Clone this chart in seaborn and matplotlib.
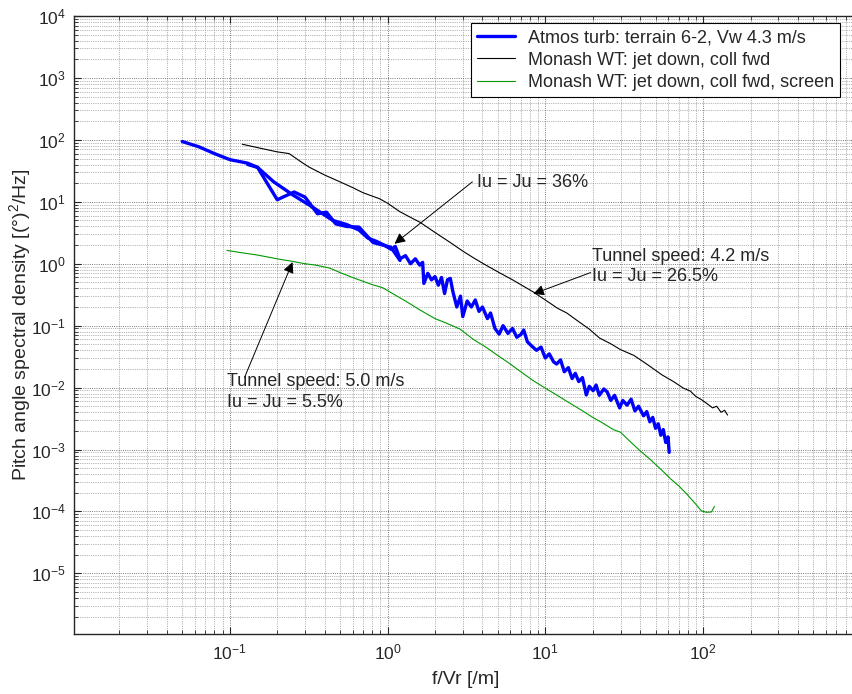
import matplotlib
matplotlib.use("Agg")
import matplotlib.pyplot as plt
from matplotlib.ticker import LogLocator, NullFormatter
import pandas as pd
import seaborn as sns

# Atmospheric turbulence spectrum (coarse + fine parts of the same record)
atmos_coarse_f = [0.05, 0.064, 0.08, 0.1, 0.13, 0.15, 0.2, 0.256, 0.3, 0.36, 0.41, 0.47,
                  0.55, 0.66, 0.81, 1.05, 1.2]
atmos_coarse_s = [94, 77, 60, 48, 42, 36, 10.8, 14.4, 11.9, 6.4, 6.8, 4.4,
                  4.0, 3.9, 2.2, 1.85, 1.13]

atmos_fine_f = [0.13, 0.15, 0.19, 0.25, 0.33, 0.45, 0.55, 0.66, 0.75, 0.85, 0.95, 1.06,
                1.12, 1.2, 1.3, 1.4, 1.5, 1.6, 1.67, 1.7, 1.8, 1.9, 2.0, 2.1, 2.2, 2.3,
                2.4, 2.5, 2.6, 2.75, 2.9, 3.0, 3.2, 3.4, 3.6, 3.8, 4.0, 4.3, 4.5, 4.8,
                5.1, 5.4, 5.8, 6.2, 6.6, 7.0, 7.3, 7.7, 8.2, 8.8, 9.4, 10.0, 10.6, 11.3,
                11.8, 12.5, 13.2, 14.0, 14.8, 15.5, 16.3, 17.2, 18.2, 19.0, 20.1, 21.0,
                22.0, 23.5, 24.7, 26.0, 27.5, 29.6, 31.0, 33.0, 35.0, 37.0, 39.0, 42.0,
                44.0, 46.0, 48.0, 50.0, 52.0, 54.0, 56.0, 58.0, 60.0, 61.0]
atmos_fine_s = [40, 36, 21, 13, 8.4, 5.0, 4.3, 3.5, 2.6, 2.3, 2.0, 1.7,
                1.9, 1.2, 1.35, 1.0, 1.2, 0.95, 1.05, 0.48, 0.7, 0.55, 0.62, 0.45, 0.6, 0.33,
                0.55, 0.58, 0.35, 0.2, 0.3, 0.14, 0.25, 0.2, 0.26, 0.17, 0.2, 0.13, 0.16, 0.09,
                0.073, 0.1, 0.075, 0.09, 0.065, 0.072, 0.085, 0.055, 0.047, 0.04, 0.045, 0.03, 0.035, 0.026,
                0.024, 0.028, 0.018, 0.021, 0.014, 0.017, 0.0125, 0.0145, 0.0076, 0.0105, 0.0089, 0.011,
                0.0075, 0.0095, 0.0085, 0.0062, 0.0075, 0.0047, 0.0062, 0.0052, 0.0065, 0.0042, 0.005, 0.0035,
                0.0041, 0.0028, 0.0033, 0.0022, 0.0026, 0.0017, 0.0021, 0.0013, 0.0016, 0.0009]

# Monash wind tunnel, jet down, collective forward
wt_f = [0.12, 0.15, 0.2, 0.238, 0.28, 0.318, 0.4, 0.5, 0.6, 0.7, 0.89, 1.0, 1.2, 1.4,
        1.6, 2.0, 2.5, 3.0, 3.5, 4.2, 5.2, 6.2, 7.2, 8.4, 10, 12, 13.7, 16, 19, 22.1,
        26, 30, 36.5, 45, 55, 65, 75, 83, 90, 97.6, 105, 115, 122, 130, 137, 143]
wt_s = [85, 75, 64, 60, 45, 36.4, 27, 21, 17, 14, 11.2, 9.5, 6.9, 5.6,
        4.7, 3.2, 2.2, 1.6, 1.25, 0.95, 0.7, 0.55, 0.44, 0.35, 0.26, 0.19, 0.16, 0.12, 0.088, 0.063,
        0.051, 0.041, 0.033, 0.023, 0.016, 0.0125, 0.0098, 0.0088, 0.0072, 0.0064, 0.0056, 0.0047,
        0.0050, 0.0040, 0.0043, 0.0036]

# Monash wind tunnel, jet down, collective forward, screen
wts_f = [0.096, 0.12, 0.15, 0.2, 0.25, 0.3, 0.35, 0.43, 0.5, 0.6, 0.7, 0.8, 0.93, 1.1,
         1.3, 1.6, 2.0, 2.36, 2.88, 3.5, 4.2, 5.0, 6.0, 7.0, 8.4, 10, 12, 14, 17, 20, 23,
         27, 30, 35, 40, 46, 54, 62, 70, 79, 88, 97.6, 105, 113, 118]
wts_s = [1.64, 1.5, 1.38, 1.2, 1.09, 1.0, 0.95, 0.85, 0.72, 0.6, 0.52, 0.46, 0.41, 0.32,
         0.25, 0.18, 0.13, 0.11, 0.088, 0.06, 0.045, 0.033, 0.024, 0.018, 0.0129, 0.0098, 0.0074,
         0.0058, 0.0043, 0.0033, 0.0027, 0.0021, 0.0019, 0.0013, 0.00095, 0.0007, 0.00048, 0.00034,
         0.00026, 0.00019, 0.00014, 0.000102, 0.000097, 0.000098, 0.00012]

labels = ["Atmos turb: terrain 6-2, Vw 4.3 m/s",
          "Monash WT: jet down, coll fwd",
          "Monash WT: jet down, coll fwd, screen"]

x_ticks = [0.1, 1, 10, 100]
y_ticks = [1e-5, 1e-4, 1e-3, 1e-2, 1e-1, 1, 10, 100, 1e3, 1e4]

sns.set_style("ticks")
plt.rcParams["font.family"] = ["Liberation Sans", "DejaVu Sans"]
plt.rcParams["mathtext.default"] = "regular"

fig = plt.figure(figsize=(8.52, 6.94), dpi=100)
ax = fig.add_axes([74 / 852, 60 / 694, (858 - 74) / 852, 618 / 694])

df_wt = pd.DataFrame({"f": wt_f, "s": wt_s})
df_wts = pd.DataFrame({"f": wts_f, "s": wts_s})
df_ac = pd.DataFrame({"f": atmos_coarse_f, "s": atmos_coarse_s})
df_af = pd.DataFrame({"f": atmos_fine_f, "s": atmos_fine_s})

sns.lineplot(data=df_wt, x="f", y="s", ax=ax, color="black", lw=0.8, sort=False,
             estimator=None, label=labels[1])
sns.lineplot(data=df_wts, x="f", y="s", ax=ax, color="#009900", lw=0.8, sort=False,
             estimator=None, label=labels[2])
sns.lineplot(data=df_ac, x="f", y="s", ax=ax, color="#0000ff", lw=2.4, sort=False,
             estimator=None, label=labels[0])
sns.lineplot(data=df_af, x="f", y="s", ax=ax, color="#0000ff", lw=2.4, sort=False,
             estimator=None)

ax.set_xscale("log")
ax.set_yscale("log")
ax.set_xlim(0.0103, 960)
ax.set_ylim(1.05e-6, 1e4)
ax.set_xticks(x_ticks)
ax.set_yticks(y_ticks)
for axis in (ax.xaxis, ax.yaxis):
    axis.set_minor_locator(LogLocator(base=10, subs=range(2, 10), numticks=30))
    axis.set_minor_formatter(NullFormatter())

ax.grid(which="major", ls=":", color="0.3", lw=0.6)
ax.grid(which="minor", ls=":", color="0.45", lw=0.5)
ax.tick_params(which="both", direction="in", top=True, right=True, labelsize=12.5, pad=6)
ax.tick_params(which="major", length=5)
ax.tick_params(which="minor", length=3)
for sp in ax.spines.values():
    sp.set_linewidth(1.0)

ax.set_xlabel("f/Vr [/m]", fontsize=14, labelpad=6)
ax.set_ylabel("Pitch angle spectral density [(°)$^2$/Hz]", fontsize=14)
ax.yaxis.set_label_coords(-0.052, 0.5)

# annotations
arrow = dict(arrowstyle="-|>", color="black", lw=0.7, mutation_scale=16, shrinkA=0, shrinkB=0)
ax.annotate("", xy=(1.108, 2.1), xytext=(3.45, 21), arrowprops=arrow)
ax.text(3.67, 20.8, "Iu = Ju = 36%", fontsize=13, va="center", ha="left")

ax.annotate("", xy=(8.4, 0.326), xytext=(19.4, 0.72), arrowprops=arrow)
ax.text(19.8, 0.9, "Tunnel speed: 4.2 m/s\nIu = Ju = 26.5%", fontsize=13, va="center", ha="left",
        linespacing=1.25)

ax.annotate("", xy=(0.25, 1.06), xytext=(0.124, 0.0145), arrowprops=arrow)
ax.text(0.096, 0.0085, "Tunnel speed: 5.0 m/s\nIu = Ju = 5.5%", fontsize=13, va="center", ha="left",
        linespacing=1.25)

handles, labs = ax.get_legend_handles_labels()
order = [labs.index(l) for l in labels]
leg = ax.legend([handles[i] for i in order], [labs[i] for i in order],
                loc="upper right", bbox_to_anchor=(840 / 852, 1 - 23 / 694),
                bbox_transform=fig.transFigure, fontsize=13, frameon=True, fancybox=False,
                edgecolor="black", framealpha=1, handlelength=2.1, handletextpad=0.7,
                borderpad=0.35, labelspacing=0.3, borderaxespad=0)
leg.get_frame().set_linewidth(0.8)

fig.savefig("out.png", dpi=100)
